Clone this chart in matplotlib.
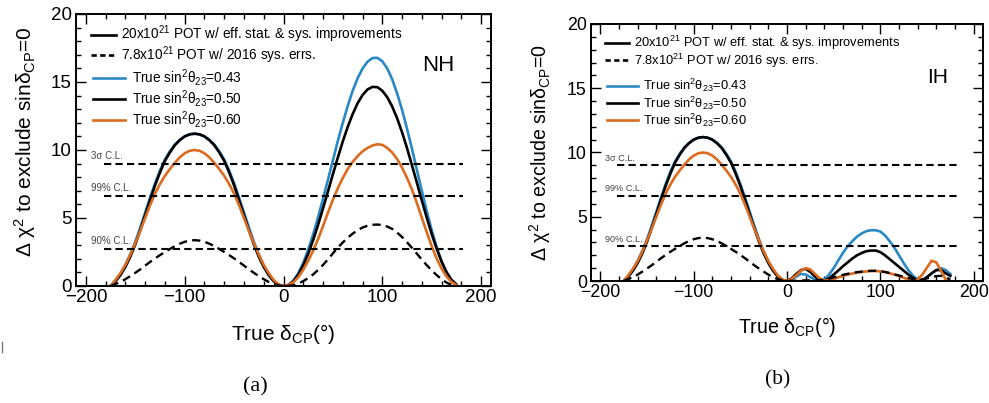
import matplotlib.pyplot as plt
from matplotlib.lines import Line2D
from matplotlib.ticker import MultipleLocator

plt.rcParams['font.family'] = ['Liberation Sans', 'DejaVu Sans']
plt.rcParams['mathtext.default'] = 'regular'

# ---- data ----
# negative-delta hump, identical in both hierarchies
left_dcp = [-175, -170, -165, -160, -155, -150, -145, -140, -135, -130, -125, -120, -115, -110, -105, -100,
            -95, -90, -85, -80, -75, -70, -65, -60, -55, -50, -45, -40, -35, -30, -25, -20, -15, -10, -5, 0]
left_043 = [0, 0.4, 0.9, 1.55, 2.35, 3.25, 4.3, 5.4, 6.5, 7.55, 8.5, 9.3, 9.9, 10.4, 10.75, 11.0,
            11.15, 11.2, 11.15, 11.0, 10.75, 10.4, 9.9, 9.3, 8.5, 7.55, 6.5, 5.4, 4.3, 3.25, 2.3, 1.5, 0.85, 0.38, 0.1, 0]
left_050 = [0, 0.35, 0.8, 1.4, 2.15, 3.05, 4.1, 5.2, 6.32, 7.4, 8.35, 9.2, 9.82, 10.35, 10.72, 11.0,
            11.15, 11.2, 11.15, 11.0, 10.72, 10.35, 9.82, 9.2, 8.35, 7.4, 6.32, 5.2, 4.1, 3.05, 2.15, 1.4, 0.8, 0.35, 0.08, 0]
left_060 = [0, 0.45, 0.95, 1.55, 2.3, 3.15, 4.05, 5.0, 5.95, 6.8, 7.5, 8.1, 8.6, 9.05, 9.46, 9.76,
            9.94, 10.0, 9.94, 9.76, 9.46, 9.05, 8.6, 8.1, 7.5, 6.8, 5.95, 5.0, 4.05, 3.15, 2.3, 1.55, 0.95, 0.45, 0.1, 0]
left_2016 = [0, 0.15, 0.3, 0.5, 0.73, 0.97, 1.22, 1.5, 1.77, 2.03, 2.27, 2.5, 2.72, 2.93, 3.11, 3.25,
             3.34, 3.37, 3.34, 3.25, 3.11, 2.93, 2.72, 2.5, 2.27, 2.03, 1.77, 1.5, 1.22, 0.97, 0.73, 0.5, 0.3, 0.15, 0.04, 0]

right_dcp = [5, 10, 15, 20, 25, 30, 35, 40, 45, 50, 55, 60, 65, 70, 75, 80, 85, 90,
             95, 100, 105, 110, 115, 120, 125, 130, 135, 140, 145, 150, 155, 160, 165, 170, 175]
# NH, positive delta
nh_043 = [0.08, 0.39, 0.94, 1.71, 2.67, 3.8, 5.06, 6.42, 7.81, 9.24, 10.67, 12.0, 13.24, 14.35, 15.27, 15.99, 16.49, 16.76,
          16.78, 16.52, 15.99, 15.2, 14.16, 12.95, 11.57, 10.09, 8.54, 7.0, 5.5, 4.1, 2.87, 1.8, 0.96, 0.37, 0.05]
nh_050 = [0.07, 0.35, 0.83, 1.52, 2.37, 3.38, 4.49, 5.71, 6.95, 8.22, 9.45, 10.63, 11.7, 12.64, 13.44, 14.04, 14.45, 14.64,
          14.62, 14.36, 13.88, 13.2, 12.33, 11.3, 10.14, 8.88, 7.59, 6.28, 5.02, 3.82, 2.74, 1.8, 1.02, 0.46, 0.12]
nh_060 = [0.08, 0.28, 0.65, 1.2, 1.85, 2.6, 3.45, 4.4, 5.4, 6.35, 7.2, 7.95, 8.6, 9.12, 9.55, 9.9, 10.15, 10.33,
          10.42, 10.38, 10.15, 9.82, 9.33, 8.7, 7.95, 7.1, 6.1, 5.02, 3.95, 2.92, 2.02, 1.28, 0.7, 0.3, 0.06]
nh_2016 = [0.01, 0.06, 0.18, 0.36, 0.58, 0.85, 1.18, 1.55, 1.96, 2.4, 2.82, 3.2, 3.55, 3.85, 4.1, 4.3, 4.43, 4.5,
           4.52, 4.48, 4.37, 4.2, 3.93, 3.6, 3.22, 2.8, 2.37, 1.95, 1.53, 1.15, 0.8, 0.5, 0.25, 0.08, 0.01]
# IH, positive delta
ih_043 = [0.1, 0.35, 0.55, 0.5, 0.3, 0.1, 0.0, 0.1, 0.5, 1.0, 1.6, 2.2, 2.7, 3.1, 3.45, 3.7, 3.88, 3.95,
          3.95, 3.85, 3.55, 3.1, 2.6, 2.0, 1.4, 0.85, 0.4, 0.1, 0.05, 0.3, 0.6, 0.85, 1.0, 0.85, 0.55]
ih_050 = [0.2, 0.55, 0.85, 0.95, 0.7, 0.35, 0.08, 0.02, 0.2, 0.5, 0.82, 1.15, 1.45, 1.75, 2.0, 2.18, 2.32, 2.37,
          2.37, 2.25, 2.0, 1.7, 1.4, 1.1, 0.8, 0.5, 0.25, 0.05, 0.05, 0.3, 0.6, 0.85, 0.85, 0.6, 0.4]
ih_060 = [0.15, 0.45, 0.8, 1.0, 0.9, 0.55, 0.2, 0.03, 0.05, 0.15, 0.28, 0.4, 0.5, 0.58, 0.65, 0.7, 0.75, 0.78,
          0.78, 0.75, 0.7, 0.6, 0.5, 0.38, 0.25, 0.12, 0.03, 0.1, 0.5, 1.05, 1.58, 1.45, 0.8, 0.1, 0]
ih_2016 = [0.01, 0.02, 0.03, 0.05, 0.05, 0.05, 0.06, 0.1, 0.18, 0.28, 0.38, 0.48, 0.56, 0.63, 0.69, 0.73, 0.77, 0.79,
           0.79, 0.76, 0.7, 0.62, 0.52, 0.43, 0.33, 0.24, 0.16, 0.12, 0.13, 0.2, 0.3, 0.38, 0.4, 0.3, 0.12]

cl_levels = [9.0, 6.63, 2.71]
cl_labels = ['3σ C.L.', '99% C.L.', '90% C.L.']
cl_range = [-182, 182]

legend_pot = ['20x10$^{21}$ POT w/ eff. stat. & sys. improvements', '7.8x10$^{21}$ POT w/ 2016 sys. errs.']
legend_th = ['True sin$^{2}$θ$_{23}$=0.43', 'True sin$^{2}$θ$_{23}$=0.50', 'True sin$^{2}$θ$_{23}$=0.60']

BLUE = '#2a88c4'
ORANGE = '#db6b1e'


def panel(ax, right043, right050, right060, right2016, tag, tag_xy, leg_y, scale):
    x = left_dcp + right_dcp
    fs = 9.8 * scale
    ax.plot(x, left_043 + right043, color=BLUE, lw=1.9)
    ax.plot(x, left_050 + right050, color='black', lw=1.9)
    ax.plot(x, left_060 + right060, color=ORANGE, lw=1.9)
    ax.plot(x, left_2016 + right2016, color='black', lw=1.7, ls=(0, (3.5, 2.2)))
    for lev, lab in zip(cl_levels, cl_labels):
        ax.plot(cl_range, [lev, lev], color='black', lw=1.5, ls=(0, (3.5, 2.0)))
        ax.text(-195, lev + 0.2, lab, fontsize=7 * scale, color='#444444', va='bottom', ha='left')

    ax.set_xlim(-210, 210)
    ax.set_ylim(0, 20)
    ax.xaxis.set_major_locator(MultipleLocator(100))
    ax.xaxis.set_minor_locator(MultipleLocator(20))
    ax.yaxis.set_major_locator(MultipleLocator(5))
    ax.yaxis.set_minor_locator(MultipleLocator(1))
    ax.tick_params(which='both', direction='in', top=True, right=True, labelsize=13.5 * scale,
                   width=1.0, pad=2)
    ax.tick_params(which='major', length=7)
    ax.tick_params(which='minor', length=3.5)
    ax.tick_params(axis='y', pad=3)
    for sp in ax.spines.values():
        sp.set_linewidth(1.4)

    ax.set_xlabel('True δ$_{CP}$(°)', fontsize=15 * scale)
    ax.set_ylabel('Δ χ$^{2}$ to exclude sinδ$_{CP}$=0', fontsize=15 * scale)
    ax.text(tag_xy[0], tag_xy[1], tag, transform=ax.transAxes, fontsize=16 * scale,
            ha='center', va='center')

    h1 = [Line2D([], [], color='black', lw=1.9), Line2D([], [], color='black', lw=1.9, ls=(0, (2.0, 1.3)))]
    leg1 = ax.legend(h1, legend_pot, loc='upper left', bbox_to_anchor=(0.035, leg_y[0]), frameon=False,
                     fontsize=fs, handlelength=1.9, handletextpad=0.35, labelspacing=-0.08, borderpad=0,
                     borderaxespad=0)
    ax.add_artist(leg1)
    h2 = [Line2D([], [], color=c, lw=1.9) for c in (BLUE, 'black', ORANGE)]
    ax.legend(h2, legend_th, loc='upper left', bbox_to_anchor=(0.042, leg_y[1]), frameon=False,
              fontsize=fs, handlelength=2.35, handletextpad=0.45, labelspacing=0.0, borderpad=0,
              borderaxespad=0)


fig = plt.figure(figsize=(9.89, 4.03), dpi=100)
ax_a = fig.add_axes([76 / 989, (403 - 286) / 403, 415 / 989, 272 / 403])
ax_b = fig.add_axes([591 / 989, (403 - 281) / 403, 392 / 989, 257 / 403])

panel(ax_a, nh_043, nh_050, nh_060, nh_2016, 'NH', (0.872, 0.81), (0.964, 0.805), 1.0)
panel(ax_b, ih_043, ih_050, ih_060, ih_2016, 'IH', (0.883, 0.79), (0.96, 0.793), 0.945)

ax_a.yaxis.set_label_coords(-0.123, 0.53)
ax_a.yaxis.label.set_va('center')
ax_b.yaxis.set_label_coords(-0.13, 0.5)
ax_b.yaxis.label.set_va('center')
ax_a.xaxis.set_label_coords(0.5, (286 - 334) / 272)
ax_a.xaxis.label.set_va('center')
ax_b.xaxis.set_label_coords(0.5, (281 - 327) / 257)
ax_b.xaxis.label.set_va('center')

fig.text(255 / 989, 1 - 387 / 403, '(a)', family='Liberation Serif', fontsize=16, ha='center', va='center')
fig.text(778 / 989, 1 - 380 / 403, '(b)', family='Liberation Serif', fontsize=15.5, ha='center', va='center')
fig.add_artist(Line2D([0.002, 0.002], [1 - 352 / 403, 1 - 342 / 403], color='#777777', lw=1))

fig.savefig('out.png', dpi=100)
